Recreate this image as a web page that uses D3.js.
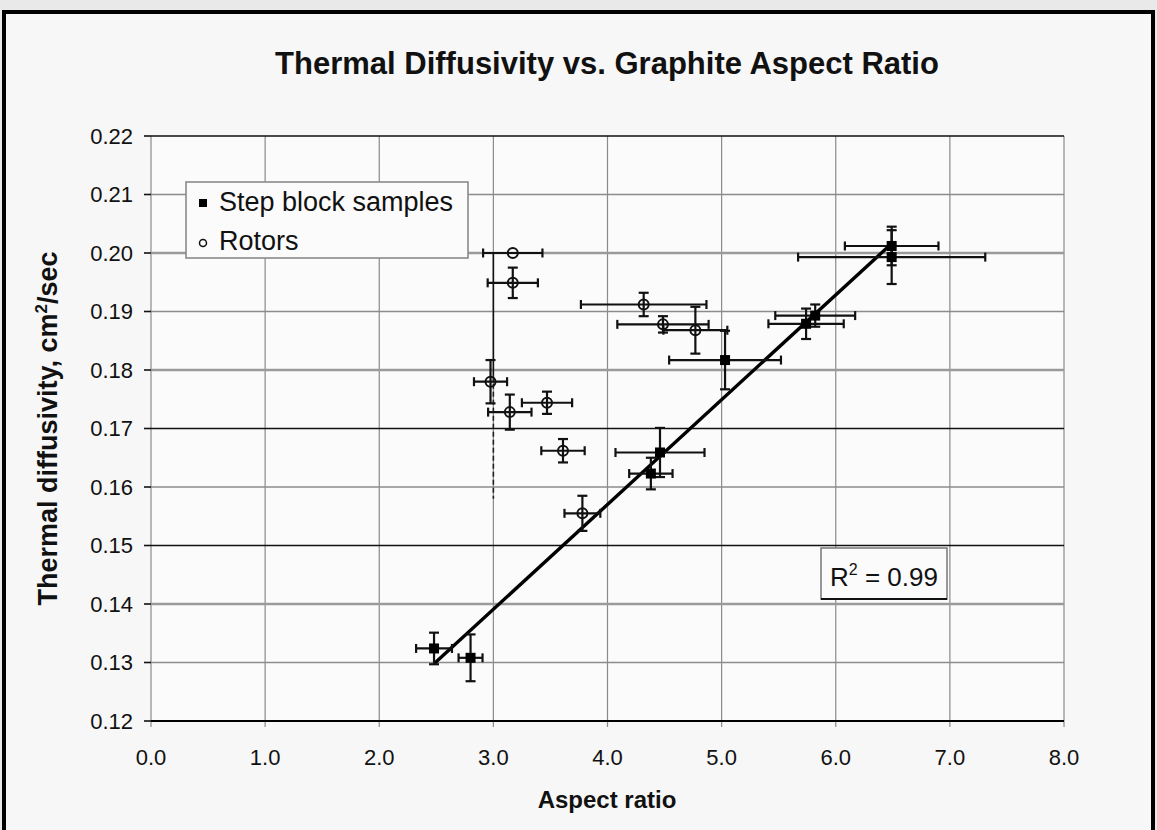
<!DOCTYPE html>
<html>
<head>
<meta charset="utf-8">
<script src="https://cdn.jsdelivr.net/npm/d3@7/dist/d3.min.js"></script>
<style>
  html, body { margin: 0; padding: 0; background: #e9e9e9; }
  svg { display: block; font-family: "Liberation Sans", Arial, Helvetica, sans-serif; }
</style>
</head>
<body>
<svg id="chart" width="1157" height="830"></svg>
<script>
// Step block samples: aspect ratio, diffusivity and their uncertainties
const stepX    = [2.48, 2.80, 4.38, 4.46, 5.03, 5.74, 5.82, 6.49, 6.49];
const stepY    = [0.1324, 0.1308, 0.1623, 0.1659, 0.1817, 0.1879, 0.1893, 0.2012, 0.1993];
const stepXErr = [0.157, 0.105, 0.19, 0.39, 0.49, 0.33, 0.35, 0.41, 0.82];
const stepYErr = [0.0027, 0.0040, 0.0027, 0.0042, 0.0050, 0.0026, 0.0019, 0.0033, 0.0046];

// Rotors
const rotorX    = [3.17, 3.17, 2.975, 3.144, 3.47, 3.61, 3.78, 4.317, 4.486, 4.77];
const rotorY    = [0.2000, 0.1949, 0.1780, 0.1728, 0.1744, 0.1662, 0.1555, 0.1912, 0.1878, 0.1868];
const rotorXErr = [0.26, 0.22, 0.145, 0.19, 0.22, 0.19, 0.157, 0.55, 0.40, 0.28];
const rotorYErr = [0, 0.0026, 0.0037, 0.0030, 0.0019, 0.0020, 0.0030, 0.0020, 0.0014, 0.0040];

// Axis ticks and labels
const xTicks = [0, 1, 2, 3, 4, 5, 6, 7, 8];
const xTickLabels = ["0.0", "1.0", "2.0", "3.0", "4.0", "5.0", "6.0", "7.0", "8.0"];
const yTicks = [0.12, 0.13, 0.14, 0.15, 0.16, 0.17, 0.18, 0.19, 0.20, 0.21, 0.22];
const yTickLabels = ["0.12", "0.13", "0.14", "0.15", "0.16", "0.17", "0.18", "0.19", "0.20", "0.21", "0.22"];

const legendLabels = ["Step block samples", "Rotors"];
const rSquared = 0.99;

// Horizontal grid rendering: a few rows print darker or heavier
const darkRows = [0.15, 0.17, 0.22];
const heavyRows = [0.14, 0.18, 0.20];

const svg = d3.select("#chart");

const plot = { left: 151, right: 1064, top: 136, bottom: 721 };
const x = d3.scaleLinear().domain([0, 8]).range([plot.left, plot.right]);
const y = d3.scaleLinear().domain([0.12, 0.22]).range([plot.bottom, plot.top]);

// Outer frame
svg.append("rect")
  .attr("x", 4).attr("y", 12).attr("width", 1149).attr("height", 830)
  .attr("fill", "#f7f7f7").attr("stroke", "#000").attr("stroke-width", 4);

// Plot background
svg.append("rect")
  .attr("x", plot.left).attr("y", plot.top)
  .attr("width", plot.right - plot.left).attr("height", plot.bottom - plot.top)
  .attr("fill", "#fbfbfb");

// Vertical grid lines (with tick stubs below the axis)
const gx = svg.append("g");
xTicks.forEach(t => {
  gx.append("line")
    .attr("x1", x(t)).attr("x2", x(t))
    .attr("y1", plot.top).attr("y2", plot.bottom + 6)
    .attr("stroke", "#8a8a8a").attr("stroke-width", 1.2);
});

// Horizontal grid lines
const gy = svg.append("g");
yTicks.forEach(t => {
  const isDark = darkRows.some(d => Math.abs(d - t) < 1e-9);
  const isHeavy = heavyRows.some(d => Math.abs(d - t) < 1e-9);
  gy.append("line")
    .attr("x1", plot.left).attr("x2", plot.right)
    .attr("y1", y(t)).attr("y2", y(t))
    .attr("stroke", isDark ? "#111" : (isHeavy ? "#9a9a9a" : "#8c8c8c"))
    .attr("stroke-width", isDark ? 1.6 : (isHeavy ? 2.6 : 1.3));
  // tick stub on the left
  gy.append("line")
    .attr("x1", plot.left - 7).attr("x2", plot.left)
    .attr("y1", y(t)).attr("y2", y(t))
    .attr("stroke", "#111").attr("stroke-width", 1.6);
});

// Darkened trace along the 3.0 grid line
svg.append("line")
  .attr("x1", x(3)).attr("x2", x(3))
  .attr("y1", y(0.2000)).attr("y2", y(0.1790))
  .attr("stroke", "#111").attr("stroke-width", 1.6);
svg.append("line")
  .attr("x1", x(3)).attr("x2", x(3))
  .attr("y1", y(0.1790)).attr("y2", y(0.1580))
  .attr("stroke", "#222").attr("stroke-width", 1.6)
  .attr("stroke-dasharray", "5,3");

// Axis line
svg.append("line")
  .attr("x1", plot.left).attr("x2", plot.right)
  .attr("y1", plot.bottom).attr("y2", plot.bottom)
  .attr("stroke", "#000").attr("stroke-width", 2.2);

// Tick labels
const tickFont = 22;
svg.append("g").selectAll("text").data(xTicks).join("text")
  .attr("x", d => x(d)).attr("y", 765)
  .attr("text-anchor", "middle")
  .attr("font-size", tickFont).attr("fill", "#111")
  .text((d, i) => xTickLabels[i]);

svg.append("g").selectAll("text").data(yTicks).join("text")
  .attr("x", 133).attr("y", d => y(d))
  .attr("dy", "0.36em")
  .attr("text-anchor", "end")
  .attr("font-size", tickFont).attr("fill", "#111")
  .text((d, i) => yTickLabels[i]);

// Title and axis titles
svg.append("text")
  .attr("x", 607).attr("y", 74)
  .attr("text-anchor", "middle")
  .attr("font-size", 31).attr("font-weight", "bold").attr("fill", "#111")
  .text("Thermal Diffusivity vs. Graphite Aspect Ratio");

svg.append("text")
  .attr("x", 607).attr("y", 808)
  .attr("text-anchor", "middle")
  .attr("font-size", 24).attr("font-weight", "bold").attr("fill", "#111")
  .text("Aspect ratio");

const yTitle = svg.append("text")
  .attr("transform", `translate(57, ${(plot.top + plot.bottom) / 2}) rotate(-90)`)
  .attr("text-anchor", "middle")
  .attr("font-size", 27).attr("font-weight", "bold").attr("fill", "#111");
yTitle.append("tspan").text("Thermal diffusivity, cm");
yTitle.append("tspan").attr("dy", -10).attr("font-size", 17).text("2");
yTitle.append("tspan").attr("dy", 10).text("/sec");

// Least-squares fit through the step block samples
const meanX = d3.mean(stepX), meanY = d3.mean(stepY);
const slope = d3.sum(stepX, (v, i) => (v - meanX) * (stepY[i] - meanY)) /
              d3.sum(stepX, v => (v - meanX) * (v - meanX));
const intercept = meanY - slope * meanX;
const fitX = d3.extent(stepX);
svg.append("line")
  .attr("x1", x(fitX[0])).attr("y1", y(intercept + slope * fitX[0]))
  .attr("x2", x(fitX[1])).attr("y2", y(intercept + slope * fitX[1]))
  .attr("stroke", "#000").attr("stroke-width", 3.4);

// Error bars
function errorBars(g, xs, ys, xe, ye) {
  const cap = 4.5;
  xs.forEach((xv, i) => {
    const cx = x(xv), cy = y(ys[i]);
    if (xe[i] > 0) {
      const x0 = x(xv - xe[i]), x1 = x(xv + xe[i]);
      g.append("line").attr("x1", x0).attr("x2", x1).attr("y1", cy).attr("y2", cy);
      g.append("line").attr("x1", x0).attr("x2", x0).attr("y1", cy - cap).attr("y2", cy + cap);
      g.append("line").attr("x1", x1).attr("x2", x1).attr("y1", cy - cap).attr("y2", cy + cap);
    }
    if (ye[i] > 0) {
      const y0 = y(ys[i] - ye[i]), y1 = y(ys[i] + ye[i]);
      g.append("line").attr("x1", cx).attr("x2", cx).attr("y1", y0).attr("y2", y1);
      g.append("line").attr("x1", cx - 5).attr("x2", cx + 5).attr("y1", y0).attr("y2", y0);
      g.append("line").attr("x1", cx - 5).attr("x2", cx + 5).attr("y1", y1).attr("y2", y1);
    }
  });
}
const eb = svg.append("g").attr("stroke", "#111").attr("stroke-width", 2.2);
errorBars(eb, rotorX, rotorY, rotorXErr, rotorYErr);
errorBars(eb, stepX, stepY, stepXErr, stepYErr);

// Markers
svg.append("g").selectAll("circle").data(rotorX).join("circle")
  .attr("cx", d => x(d)).attr("cy", (d, i) => y(rotorY[i]))
  .attr("r", 5)
  .attr("fill", "none").attr("stroke", "#111").attr("stroke-width", 2);

const sq = 10;
svg.append("g").selectAll("rect").data(stepX).join("rect")
  .attr("x", d => x(d) - sq / 2).attr("y", (d, i) => y(stepY[i]) - sq / 2)
  .attr("width", sq).attr("height", sq)
  .attr("fill", "#000");

// Legend
const lg = svg.append("g");
lg.append("rect")
  .attr("x", 186).attr("y", 182).attr("width", 282).attr("height", 76)
  .attr("fill", "#fbfbfb").attr("stroke", "#8a8a8a").attr("stroke-width", 1.6);
lg.append("rect").attr("x", 199).attr("y", 199).attr("width", 8).attr("height", 8).attr("fill", "#000");
lg.append("circle").attr("cx", 203).attr("cy", 243).attr("r", 3.5)
  .attr("fill", "none").attr("stroke", "#111").attr("stroke-width", 1.5);
lg.selectAll("text").data(legendLabels).join("text")
  .attr("x", 219).attr("y", (d, i) => 211 + i * 39)
  .attr("font-size", 27).attr("fill", "#111")
  .text(d => d);

// R-squared annotation
const rg = svg.append("g");
rg.append("rect")
  .attr("x", 821).attr("y", 548).attr("width", 126).attr("height", 51)
  .attr("fill", "#fbfbfb").attr("stroke", "#777").attr("stroke-width", 1.5);
rg.append("line")
  .attr("x1", 821).attr("x2", 947).attr("y1", 599).attr("y2", 599)
  .attr("stroke", "#111").attr("stroke-width", 2);
const rt = rg.append("text")
  .attr("x", 884).attr("y", 586)
  .attr("text-anchor", "middle")
  .attr("font-size", 26).attr("fill", "#111");
rt.append("tspan").text("R");
rt.append("tspan").attr("dy", -11).attr("font-size", 16).text("2");
rt.append("tspan").attr("dy", 11).text(" = " + rSquared.toFixed(2));
</script>
</body>
</html>
